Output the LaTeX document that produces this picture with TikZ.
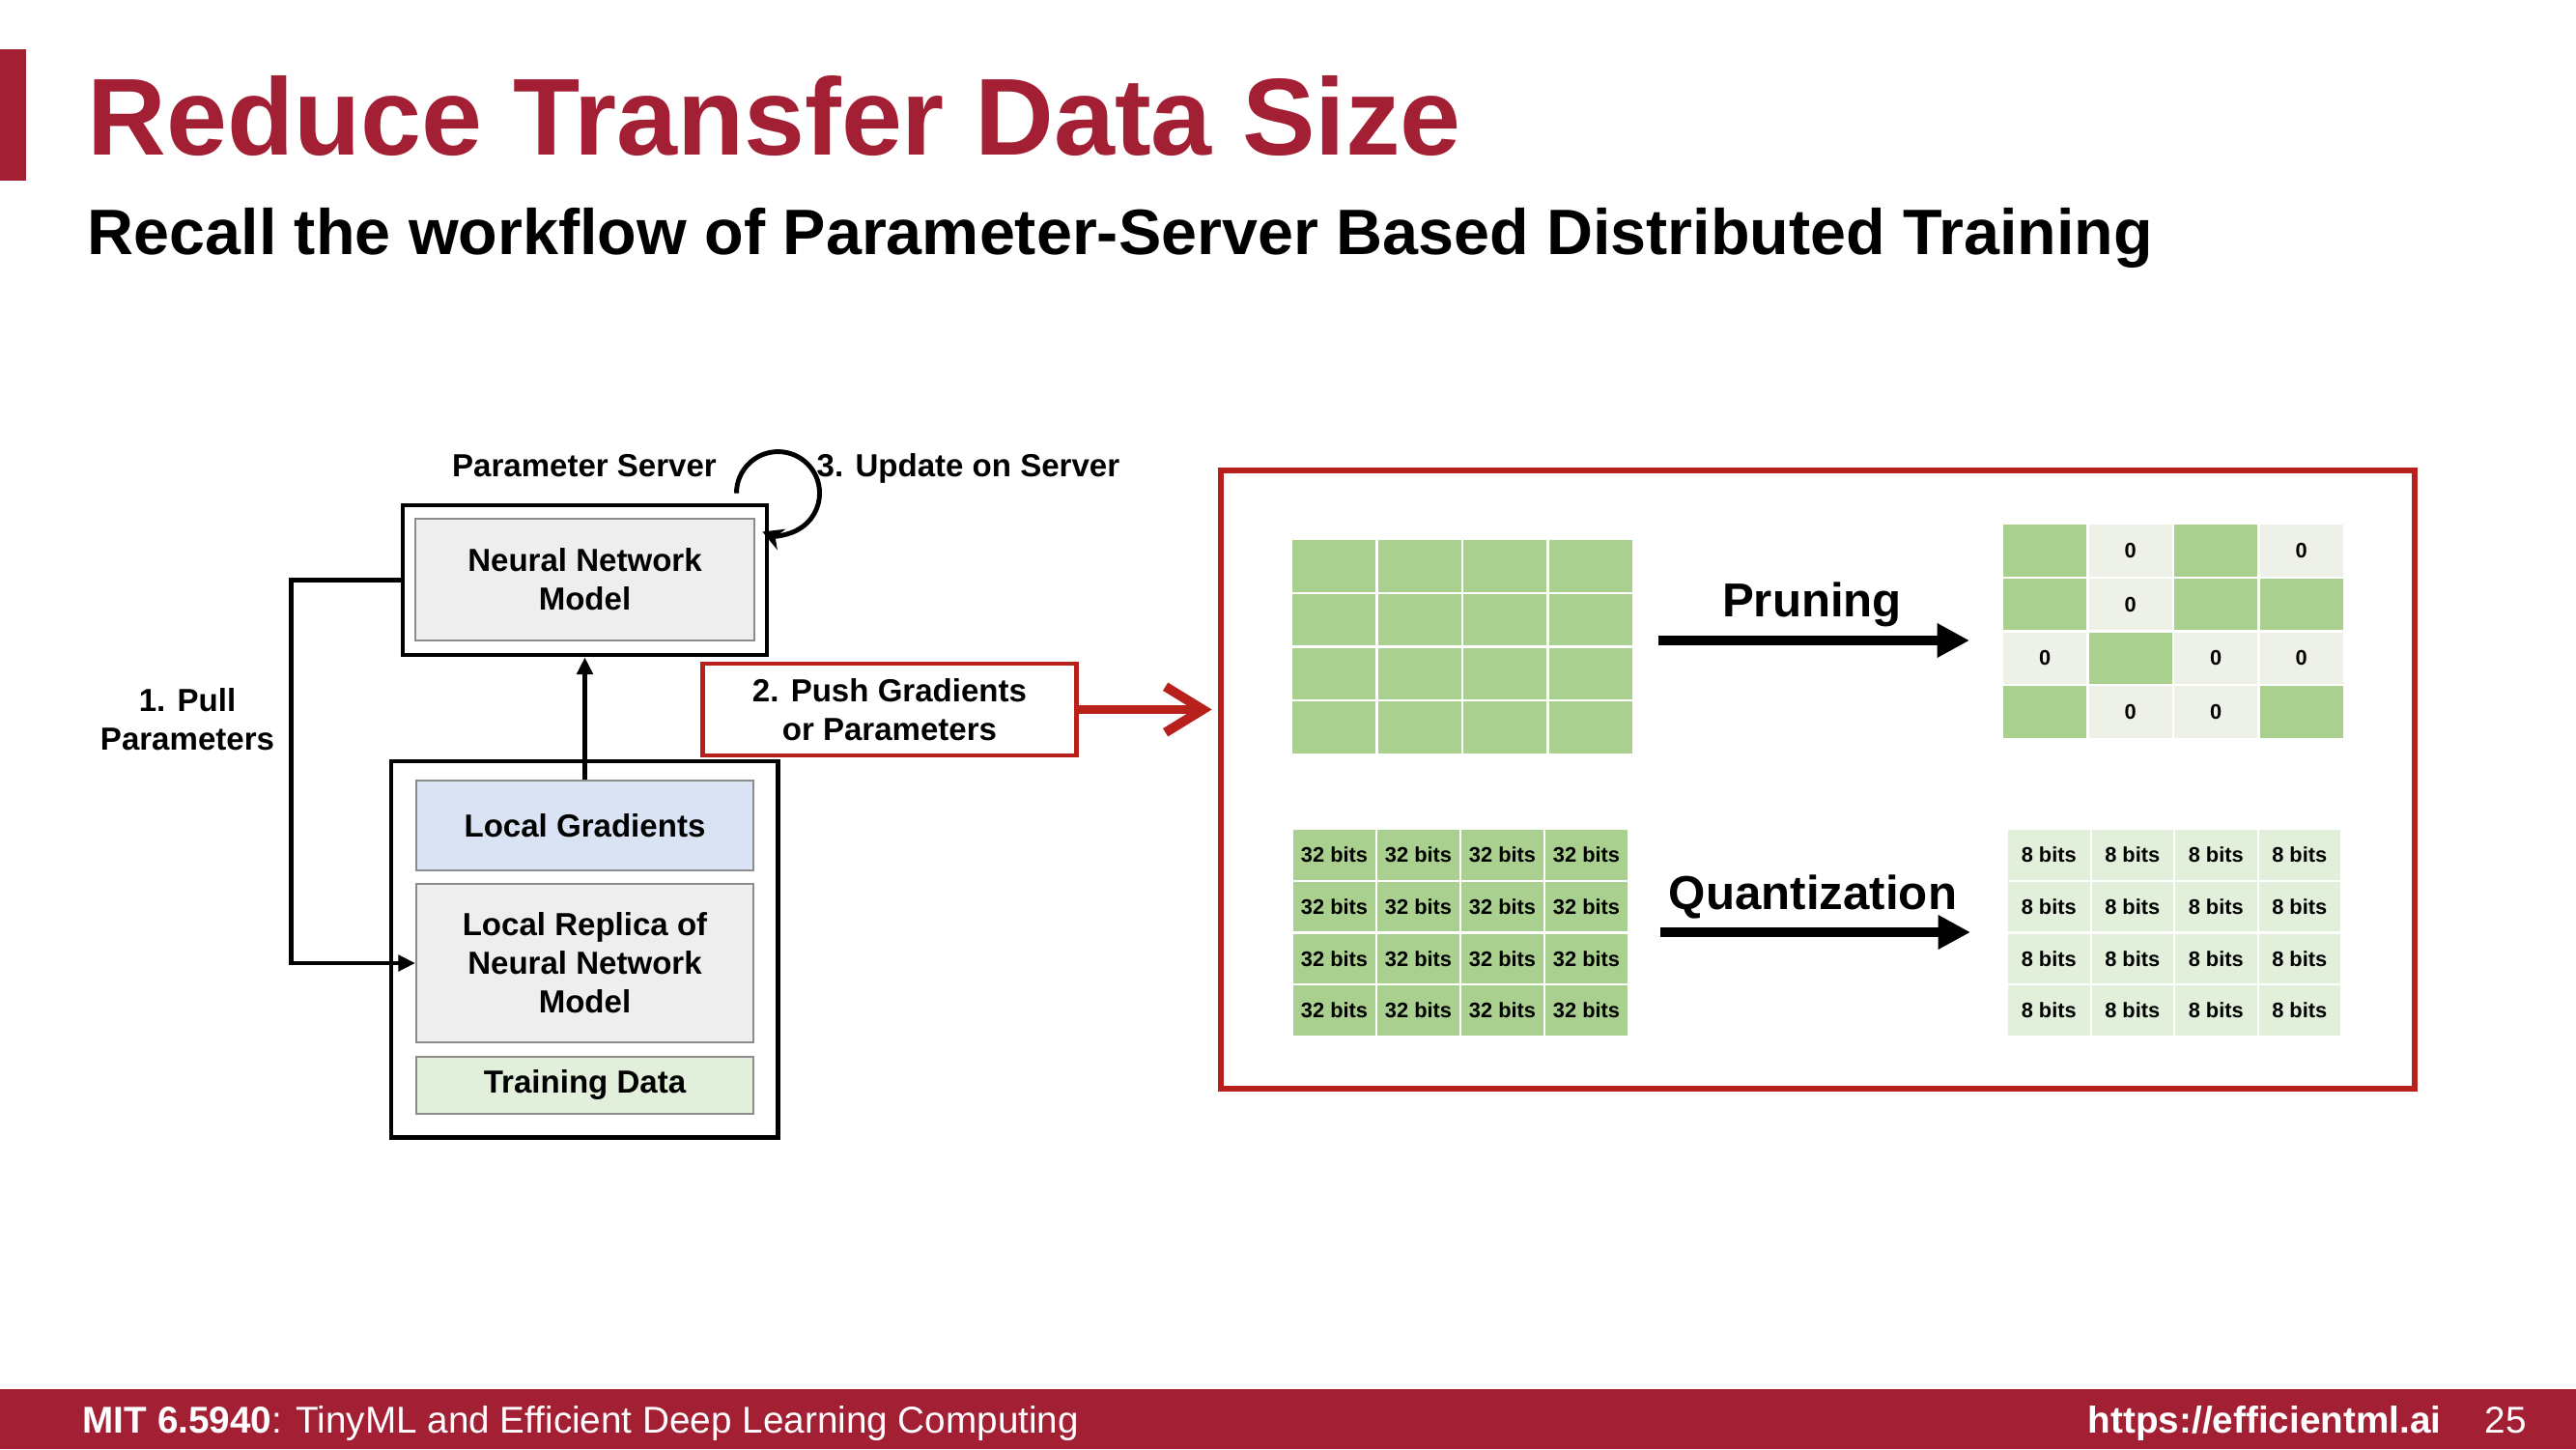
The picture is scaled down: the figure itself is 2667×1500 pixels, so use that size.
\documentclass[tikz,border=0pt]{standalone}
\usepackage{fontspec}
\setmainfont{Liberation Sans}
\usetikzlibrary{arrows.meta}

\definecolor{mitred}{HTML}{A31F34}
\definecolor{boxred}{HTML}{B8211B}
\definecolor{greyfill}{HTML}{EEEEEE}
\definecolor{greyline}{HTML}{8C8C8C}
\definecolor{bluefill}{HTML}{DAE3F3}
\definecolor{greenfill}{HTML}{E2EFDA}
\definecolor{cellgreen}{HTML}{A9D08E}
\definecolor{cellzero}{HTML}{EDF1E8}
\definecolor{celllight}{HTML}{E2EFDA}

\newcommand\lblfont{\fontsize{9.4}{11.4}\selectfont\bfseries}
\newcommand\cellfont{\fontsize{6.2}{7}\selectfont\bfseries}
\newcommand\opfont{\fontsize{14}{17}\selectfont\bfseries}

\begin{document}
\begin{tikzpicture}[x=0.01cm, y=-0.01cm,
  lbl/.style={font=\lblfont, align=center, inner sep=0},
  outerbox/.style={draw=black, line width=1.35pt, fill=white, inner sep=0},
  innerbox/.style={draw=greyline, line width=0.5pt, inner sep=0, font=\lblfont, align=center},
  conn/.style={line width=1.4pt, -{Triangle[length=5pt,width=4.6pt]}},
  bigarrow/.style={line width=2.8pt, -{Triangle[length=9.5pt,width=9.5pt]}},
  cellbase/.style={inner sep=0, font=\cellfont},
  pcell/.style={cellbase, minimum width=0.86cm, minimum height=0.533cm},
  qcell/.style={cellbase, minimum width=0.85cm, minimum height=0.515cm},
]
\useasboundingbox (0,0) rectangle (2667,1500);
\fill[white] (0,0) rectangle (2667,1500);

% header
\fill[mitred] (0,51) rectangle (27,187);
\node[anchor=base west, inner sep=0, text=mitred, font=\fontsize{32.2}{38}\selectfont\bfseries] (title) at (90,161) {Reduce Transfer Data Size};
\node[anchor=base west, inner sep=0, font=\fontsize{18.9}{22}\selectfont\bfseries] (subtitle) at (90,264) {Recall the workflow of Parameter-Server Based Distributed Training};

% footer
\fill[mitred] (0,1438) rectangle (2667,1500);
\node[anchor=base west, inner sep=0, text=white, font=\fontsize{11}{13}\selectfont] (course) at (85,1483) {\textbf{MIT 6.5940}: TinyML and Efficient Deep Learning Computing};
\node[anchor=base east, inner sep=0, text=white, font=\fontsize{11}{13}\selectfont\bfseries] (url) at (2528,1483) {https://efficientml.ai};
\node[anchor=base, inner sep=0, text=white, font=\fontsize{11}{13}\selectfont] (page) at (2594,1483) {25};

% parameter server
\node[outerbox, minimum width=3.77cm, minimum height=1.55cm] (srv) at (605.5,600.5) {};
\node[innerbox, fill=greyfill, minimum width=3.51cm, minimum height=1.26cm] (nn) at (605.5,600) {Neural Network\\Model};
\node[lbl, anchor=base] (pslbl) at (605,493) {Parameter Server};
\node[lbl, anchor=base west] (uplbl) at (845,493) {3. Update on Server};

% worker
\node[outerbox, minimum width=4.00cm, minimum height=3.89cm] (wk) at (605,982.5) {};
\node[innerbox, fill=bluefill, minimum width=3.49cm, minimum height=0.93cm] (grad) at (605.5,854.5) {Local Gradients};
\node[innerbox, fill=greyfill, minimum width=3.49cm, minimum height=1.64cm] (rep) at (605.5,997) {Local Replica of\\Neural Network\\Model};
\node[innerbox, fill=greenfill, minimum width=3.49cm, minimum height=0.59cm] (data) at (605.5,1123.5) {Training Data};

\node[lbl] (pull) at (194,745) {1. Pull\\Parameters};

% push box and compression frame
\node[draw=boxred, line width=1.4pt, fill=white, minimum width=3.86cm, minimum height=0.95cm, font=\lblfont, align=center, inner sep=0] (push) at (921,734.5) {2. Push Gradients\\or Parameters};
\node[draw=boxred, line width=1.7pt, minimum width=12.36cm, minimum height=6.40cm, inner sep=0] (frame) at (1882,807) {};

% connectors
\draw[conn] (grad.north) -- (srv.south);
\draw[conn] (srv.west) -- ++(-113,0) |- (rep.west);
\draw[line width=1.4pt, -{Stealth[length=6pt,width=6.5pt]}] ([shift={(-34,-10)}]srv.north east) arc[start angle=180, end angle=-112, radius=0.43cm];
\draw[boxred, line width=2.8pt, -{Straight Barb[length=11pt,width=13.5pt]}] (push.east) -- ([xshift=-1.7pt]push.east -| frame.west);

% pruning
\foreach \r in {0,...,3}
  \foreach \c in {0,...,3}
    \node[pcell, fill=cellgreen] (pa-\r-\c) at ({1337+88.5*(\c+0.5)},{558+55.75*(\r+0.5)}) {};
\foreach \r/\c in {0/0,0/2,1/0,1/2,1/3,2/1,3/0,3/3}
  \node[pcell, fill=cellgreen] (pb-\r-\c) at ({2073+88.5*(\c+0.5)},{542+55.75*(\r+0.5)}) {};
\foreach \r/\c in {0/1,0/3,1/1,2/0,2/2,2/3,3/1,3/2}
  \node[pcell, fill=cellzero] (pb-\r-\c) at ({2073+88.5*(\c+0.5)},{542+55.75*(\r+0.5)}) {0};
\coordinate (prs) at (1717,663);
\coordinate (pre) at (2039,663);
\draw[bigarrow] (prs) -- (pre);
\node[anchor=base, inner sep=0, font=\opfont] (prlbl) at (1876,638) {Pruning};

% quantization
\foreach \r in {0,...,3}
  \foreach \c in {0,...,3} {
    \node[qcell, fill=cellgreen] (qa-\r-\c) at ({1338+87*(\c+0.5)},{858+53.75*(\r+0.5)}) {32 bits};
    \node[qcell, fill=celllight, minimum width=0.845cm] (qb-\r-\c) at ({2078+86.5*(\c+0.5)},{858+53.75*(\r+0.5)}) {8 bits};
  }
\coordinate (qs) at (1719,965);
\coordinate (qe) at (2040,965);
\draw[bigarrow] (qs) -- (qe);
\node[anchor=base, inner sep=0, font=\opfont] (qlbl) at (1877,941) {Quantization};
\end{tikzpicture}
\end{document}
